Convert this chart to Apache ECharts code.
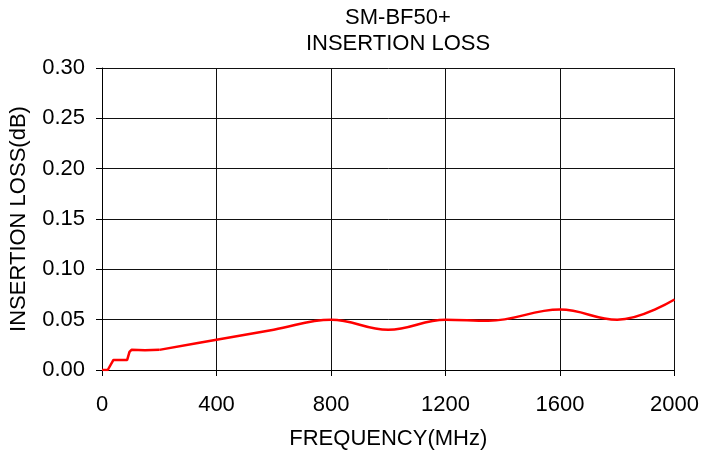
<!DOCTYPE html>
<html>
<head>
<meta charset="utf-8">
<script src="https://cdn.jsdelivr.net/npm/echarts@6/dist/echarts.min.js"></script>
<style>html,body{margin:0;padding:0;background:#fff}#c{width:702px;height:455px}</style>
</head>
<body>
<div id="c"></div>
<script>
const titleLines = ['SM-BF50+', 'INSERTION LOSS'];
const xName = 'FREQUENCY(MHz)';
const yName = 'INSERTION LOSS(dB)';
// low-frequency step region (MHz, dB)
const stepFreq = [0, 20, 40, 88, 96, 103, 150, 200];
const stepLoss = [0, 0, 0.010, 0.010, 0.018, 0.020, 0.0195, 0.020];
// main region
const mainFreq = [200, 400, 600, 800, 1000, 1200, 1350, 1600, 1800, 2000];
const mainLoss = [0.020, 0.030, 0.040, 0.050, 0.040, 0.050, 0.049, 0.060, 0.050, 0.070];

const font = 'Liberation Sans, Arial, sans-serif';
const chart = echarts.init(document.getElementById('c'));
chart.setOption({
  animation: false,
  title: {
    text: titleLines.join('\n'),
    left: 393, top: 0, textAlign: 'center',
    textStyle: {fontFamily: font, fontSize: 22, fontWeight: 'normal', color: '#000', lineHeight: 26}
  },
  grid: {left: 101, right: 26, top: 68, bottom: 85},
  xAxis: {
    type: 'value', min: 0, max: 2000, interval: 400,
    name: xName, nameLocation: 'middle', nameGap: 58,
    nameTextStyle: {fontFamily: font, fontSize: 22, color: '#000'},
    axisLine: {show: true, lineStyle: {color: '#000', width: 1}},
    axisTick: {show: true, length: 6, lineStyle: {color: '#000'}},
    axisLabel: {fontFamily: font, fontSize: 22, color: '#000', margin: 24,
      formatter: v => String(v)},
    splitLine: {show: true, lineStyle: {color: '#111', width: 1}}
  },
  yAxis: {
    type: 'value', min: 0, max: 0.30, interval: 0.05,
    name: yName, nameLocation: 'middle', nameGap: 72, nameRotate: 90,
    nameTextStyle: {fontFamily: font, fontSize: 22, color: '#000'},
    axisLine: {show: true, lineStyle: {color: '#000', width: 1}},
    axisTick: {show: true, length: 6, lineStyle: {color: '#000'}},
    axisLabel: {fontFamily: font, fontSize: 22, color: '#000', margin: 17,
      formatter: v => v.toFixed(2)},
    splitLine: {show: true, lineStyle: {color: '#111', width: 1}}
  },
  series: [
    {
      type: 'line', symbol: 'none', smooth: false,
      data: stepFreq.map((f, i) => [f, stepLoss[i]]),
      lineStyle: {color: '#ff0000', width: 2.5}
    },
    {
      type: 'line', symbol: 'none', smooth: 0.4,
      data: mainFreq.map((f, i) => [f, mainLoss[i]]),
      lineStyle: {color: '#ff0000', width: 2.5}
    }
  ]
});
</script>
</body>
</html>
